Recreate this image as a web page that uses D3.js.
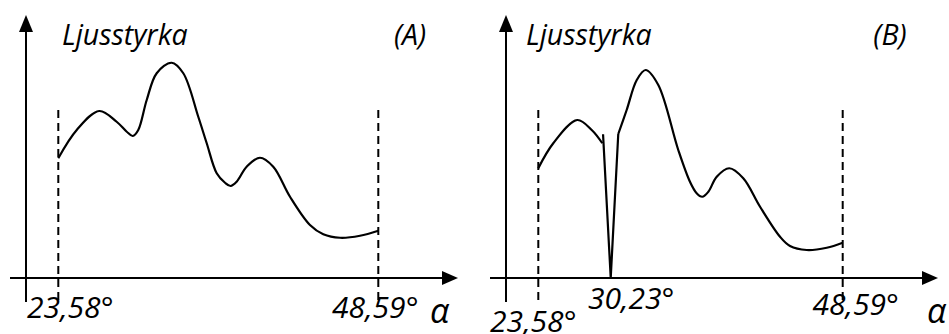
<!DOCTYPE html>
<html>
<head>
<meta charset="utf-8">
<script src="https://cdn.jsdelivr.net/npm/d3@7"></script>
<style>
  html, body { margin: 0; padding: 0; background: #fff; }
  svg { display: block; }
  text { font-family: "Open Sans", "Noto Sans", sans-serif; font-style: italic; fill: #000; }
</style>
</head>
<body>
<svg id="chart" width="949" height="334"></svg>
<script>
// ---- Data (angle in degrees, relative light intensity) ----
const yLabel = "Ljusstyrka";
const xLabel = "α";
const panelTitles = ["(A)", "(B)"];

const tickValuesA = [23.58, 48.59];
const tickLabelsA = ["23,58°", "48,59°"];
const tickValuesB = [23.58, 30.23, 48.59];
const tickLabelsB = ["23,58°", "30,23°", "48,59°"];

const curveA = [
  [23.58, 4.79], [25.02, 5.92], [26.78, 6.68], [28.14, 6.25], [28.93, 5.85],
  [29.40, 5.68], [29.83, 5.92], [30.49, 7.12], [31.27, 8.19], [32.44, 8.61],
  [33.35, 8.19], [34.52, 6.45], [35.18, 5.39], [35.96, 4.19], [36.61, 3.81],
  [37.05, 3.68], [37.52, 3.85], [38.30, 4.45], [39.34, 4.81], [40.38, 4.45],
  [41.69, 3.25], [43.25, 2.12], [44.29, 1.75], [45.60, 1.61], [47.16, 1.69],
  [48.59, 1.89]
];

const curveBLeft = [
  [23.58, 4.39], [24.81, 5.39], [26.78, 6.32], [27.97, 5.92], [28.84, 5.39]
];
const curveBDip = [
  [28.90, 5.75], [29.53, 0.00], [30.15, 5.76]
];
const curveBRight = [
  [30.15, 5.76], [30.84, 6.72], [31.67, 7.92], [32.40, 8.32], [33.44, 7.72],
  [35.08, 5.12], [36.04, 3.85], [36.59, 3.39], [37.05, 3.25], [37.55, 3.45],
  [38.24, 4.05], [39.27, 4.39], [40.42, 3.99], [41.80, 2.85], [43.44, 1.65],
  [44.26, 1.28], [45.63, 1.12], [47.28, 1.21], [48.59, 1.41]
];

// ---- Layout ----
const svg = d3.select("#chart");
const yDomain = [0, 10];
const yScale = d3.scaleLinear().domain(yDomain).range([278, 28]);

const panels = [
  {
    title: panelTitles[0],
    xRange: [58.3, 378.3],
    yAxisX: 26, xAxisStart: 10, xAxisEnd: 458,
    titleX: 410, yLabelX: 62, alphaX: 430,
    ticks: tickValuesA, labels: tickLabelsA,
    labelDx: [12, -3], labelY: [318, 318],
    segments: [{ data: curveA, smooth: true }]
  },
  {
    title: panelTitles[1],
    xRange: [538.3, 842.7],
    yAxisX: 506, xAxisStart: 490, xAxisEnd: 938,
    titleX: 890, yLabelX: 526, alphaX: 927,
    ticks: tickValuesB, labels: tickLabelsB,
    labelDx: [-5, 12, 13], labelY: [332, 309, 315],
    segments: [
      { data: curveBLeft, smooth: true },
      { data: curveBDip, smooth: false },
      { data: curveBRight, smooth: true }
    ]
  }
];

const axisY = yScale(0);
const topY = 15;
const bottomY = 302;
const dashTop = 110;

panels.forEach(p => {
  const x = d3.scaleLinear().domain([tickValuesA[0], tickValuesA[tickValuesA.length - 1]]).range(p.xRange);
  const g = svg.append("g");

  // y axis (vertical arrow)
  g.append("line")
    .attr("x1", p.yAxisX).attr("x2", p.yAxisX)
    .attr("y1", bottomY).attr("y2", topY + 10)
    .attr("stroke", "#000").attr("stroke-width", 2);
  g.append("path")
    .attr("d", `M${p.yAxisX},${topY} L${p.yAxisX - 7},${topY + 17} L${p.yAxisX + 7},${topY + 17} Z`)
    .attr("fill", "#000");

  // x axis (horizontal arrow)
  g.append("line")
    .attr("x1", p.xAxisStart).attr("x2", p.xAxisEnd - 10)
    .attr("y1", axisY).attr("y2", axisY)
    .attr("stroke", "#000").attr("stroke-width", 2);
  g.append("path")
    .attr("d", `M${p.xAxisEnd},${axisY} L${p.xAxisEnd - 16},${axisY - 7} L${p.xAxisEnd - 16},${axisY + 7} Z`)
    .attr("fill", "#000");

  // dashed boundary lines at the first and last tick
  [p.ticks[0], p.ticks[p.ticks.length - 1]].forEach(v => {
    g.append("line")
      .attr("x1", x(v)).attr("x2", x(v))
      .attr("y1", dashTop).attr("y2", bottomY)
      .attr("stroke", "#000").attr("stroke-width", 2)
      .attr("stroke-dasharray", "8,5");
  });

  // curve segments
  p.segments.forEach(s => {
    const line = d3.line()
      .x(d => x(d[0]))
      .y(d => yScale(d[1]))
      .curve(s.smooth ? d3.curveCatmullRom.alpha(0.5) : d3.curveLinear);
    g.append("path")
      .datum(s.data)
      .attr("d", line)
      .attr("fill", "none")
      .attr("stroke", "#000")
      .attr("stroke-width", 2.2)
      .attr("stroke-linejoin", "round");
  });

  // tick labels
  p.ticks.forEach((v, i) => {
    g.append("text")
      .attr("x", x(v) + p.labelDx[i])
      .attr("y", p.labelY[i])
      .attr("text-anchor", "middle")
      .attr("font-size", 30)
      .text(p.labels[i]);
  });

  // y label & panel title
  g.append("text")
    .attr("x", p.yLabelX).attr("y", 45)
    .attr("font-size", 28.5)
    .text(yLabel);
  g.append("text")
    .attr("x", p.titleX).attr("y", 45)
    .attr("text-anchor", "middle")
    .attr("font-size", 28.5)
    .text(p.title);

  // alpha
  g.append("text")
    .attr("x", p.alphaX).attr("y", 323)
    .attr("font-size", 34)
    .text(xLabel);
});
</script>
</body>
</html>
